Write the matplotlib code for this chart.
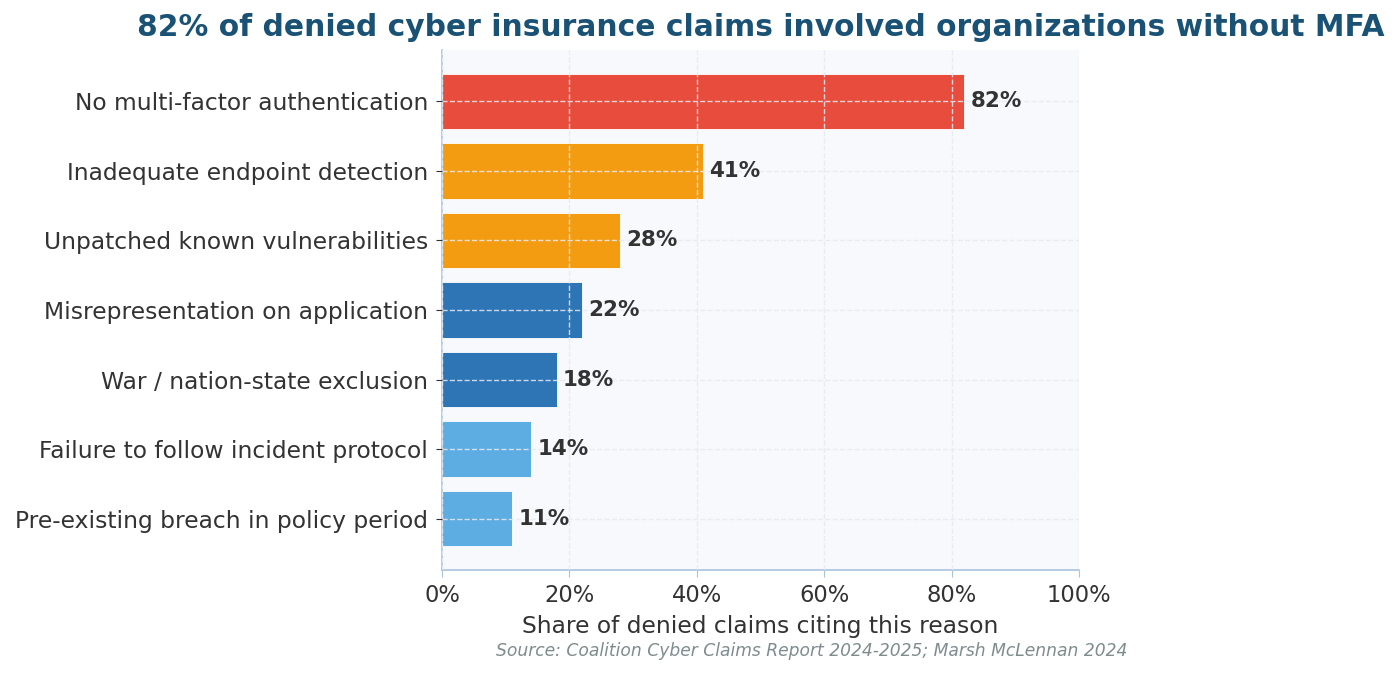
import matplotlib
matplotlib.use("Agg")
import matplotlib.pyplot as plt
from matplotlib.ticker import PercentFormatter

# data (top to bottom)
reasons = [
    "No multi-factor authentication",
    "Inadequate endpoint detection",
    "Unpatched known vulnerabilities",
    "Misrepresentation on application",
    "War / nation-state exclusion",
    "Failure to follow incident protocol",
    "Pre-existing breach in policy period",
]
shares = [82, 41, 28, 22, 18, 14, 11]
bar_colors = ["#e74c3c", "#f39c12", "#f39c12", "#2e75b6", "#2e75b6", "#5dade2", "#5dade2"]

title = "82% of denied cyber insurance claims involved organizations without MFA"
xlabel = "Share of denied claims citing this reason"
source = "Source: Coalition Cyber Claims Report 2024-2025; Marsh McLennan 2024"

fig = plt.figure(figsize=(14, 6.74), dpi=100)
ax = fig.add_axes([0.3157, 0.1543, 0.455, 0.7715])
ax.set_facecolor("#f8f9fc")

y = list(range(len(reasons)))
bars = ax.barh(y, shares, height=0.8, color=bar_colors, edgecolor="white", linewidth=0.6)
ax.set_yticks(y)
ax.set_yticklabels(reasons, fontsize=16.8, color="#333333")
ax.invert_yaxis()

ax.set_xlim(0, 100)
ax.set_xticks([0, 20, 40, 60, 80, 100])
ax.xaxis.set_major_formatter(PercentFormatter(decimals=0))
ax.tick_params(axis="x", labelsize=16.3, colors="#a8c4e0", labelcolor="#333333", length=5, pad=5)
ax.tick_params(axis="y", length=4, color="#333333", pad=6)

# grid drawn over the bars, light dashed
ax.grid(True, linestyle="--", color="#e6eaf2", linewidth=1, alpha=0.85)
ax.set_axisbelow(False)

for side in ["top", "right"]:
    ax.spines[side].set_visible(False)
for side in ["left", "bottom"]:
    ax.spines[side].set_color("#a8c4e0")
    ax.spines[side].set_linewidth(1.2)

for b, v in zip(bars, shares):
    ax.text(v + 1, b.get_y() + b.get_height() / 2, f"{v}%", va="center", ha="left",
            fontsize=15.4, fontweight="bold", color="#333333")

ax.set_xlabel(xlabel, fontsize=16.8, color="#333333", labelpad=6)
ax.set_title(title, fontsize=21.4, fontweight="bold", color="#1a5276", pad=10)

fig.text(0.58, 0.027, source, ha="center", fontsize=12.3, style="italic", color="#7f8c8d")

fig.savefig("out.png", dpi=100)
